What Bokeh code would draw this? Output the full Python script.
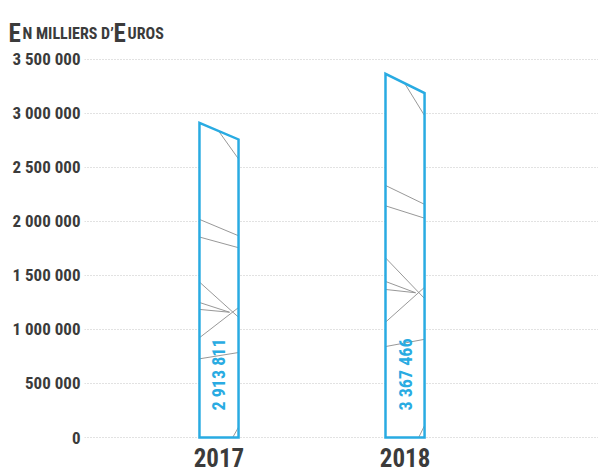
import numpy as np
from bokeh.plotting import figure
from bokeh.layouts import column
from bokeh.models import Range1d, FixedTicker
from bokeh.core.properties import value
from bokeh.embed import file_html
from bokeh.resources import INLINE

# ---- data ----
years = ["2017", "2018"]
totals = [2913811, 3367466]
total_labels = ["2 913 811", "3 367 466"]
y_ticks = [0, 500000, 1000000, 1500000, 2000000, 2500000, 3000000, 3500000]
y_tick_labels = ["0", "500 000", "1 000 000", "1 500 000", "2 000 000",
                 "2 500 000", "3 000 000", "3 500 000"]
title_parts = ["E", "N MILLIERS D\u2019", "E", "UROS"]   # small-caps title

# decorative hatch pattern inside each bar (fractions of bar width / height)
DECOR = [
    (0.50, 0.972, 1.00, 0.885),
    (0.00, 0.693, 1.00, 0.641),
    (0.00, 0.637, 1.00, 0.603),
    (0.00, 0.494, 1.00, 0.382),
    (0.00, 0.429, 0.77, 0.398),
    (0.00, 0.407, 0.77, 0.398),
    (0.00, 0.317, 1.00, 0.413),
    (0.00, 0.250, 1.00, 0.270),
    (0.85, 0.000, 1.00, 0.033),
]

FONT = "Roboto Condensed"
BLUE = "#29abe2"
DARK = "#3b3b3b"
HALF = 0.105
SLANT = 0.947

xpos = np.arange(len(years), dtype=float)

# ---- title strip ----
t = figure(width=598, height=48, output_backend="svg", toolbar_location=None,
           x_range=Range1d(0, 598), y_range=Range1d(48, 0), min_border=0)
t.frame_align = False
t.axis.visible = False
t.grid.visible = False
t.outline_line_color = None
title_x = [8, 22, 113, 127]
title_sizes = ["25px", "16px", "25px", "16px"]
for txt, tx, fs in zip(title_parts, title_x, title_sizes):
    t.text(x=[tx], y=[33], text=[txt], text_font=value(FONT),
           text_font_style="bold", text_font_size=fs, text_color=DARK,
           text_baseline="alphabetic", text_align="left")

# ---- main chart ----
p = figure(width=598, height=425, output_backend="svg", toolbar_location=None,
           x_range=Range1d(-0.723, 2.040), y_range=Range1d(-18500, 3546000),
           min_border_left=84, min_border_right=0, min_border_top=6,
           min_border_bottom=34)
p.frame_align = False
p.outline_line_color = None

p.yaxis.ticker = FixedTicker(ticks=y_ticks)
p.yaxis.major_label_overrides = {t_: l for t_, l in zip(y_ticks, y_tick_labels)}
p.xaxis.ticker = FixedTicker(ticks=list(xpos))
p.xaxis.major_label_overrides = {float(i): y for i, y in zip(xpos, years)}
for ax in (p.xaxis, p.yaxis):
    ax.axis_line_color = None
    ax.major_tick_line_color = None
    ax.minor_tick_line_color = None
    ax.major_tick_out = 0
    ax.major_tick_in = 0
    ax.minor_tick_out = 0
    ax.minor_tick_in = 0
    ax.major_label_text_font = FONT
    ax.major_label_text_font_style = "bold"
    ax.major_label_text_color = DARK
p.yaxis.major_label_text_font_size = "17px"
p.yaxis.major_label_standoff = 4
p.xaxis.major_label_text_font_size = "25px"
p.xaxis.major_label_standoff = 8

p.xgrid.visible = False
p.ygrid.ticker = FixedTicker(ticks=y_ticks)
p.ygrid.grid_line_color = "#c4c4c4"
p.ygrid.grid_line_dash = "1 2"

bar_xs = [[x - HALF, x - HALF, x + HALF, x + HALF] for x in xpos]
bar_ys = [[0, v, v * SLANT, 0] for v in totals]
p.patches(bar_xs, bar_ys, fill_color="white", line_color=None)

dxs, dys = [], []
for x, v in zip(xpos, totals):
    for fx0, fy0, fx1, fy1 in DECOR:
        dxs.append([x - HALF + 2 * HALF * fx0, x - HALF + 2 * HALF * fx1])
        dys.append([v * fy0, v * fy1])
p.multi_line(dxs, dys, line_color="#8c8c8c", line_width=0.9)

p.patches(bar_xs, bar_ys, fill_color=None, line_color=BLUE,
          line_width=2.5, line_join="miter")

p.text(x=xpos, y=[0] * len(xpos), text=total_labels, angle=np.pi / 2,
       text_align="left", text_baseline="middle", y_offset=-27,
       text_font=value(FONT), text_font_style="bold",
       text_font_size="18px", text_color=BLUE)

open("out.html", "w").write(file_html(column(t, p, spacing=0), INLINE))
